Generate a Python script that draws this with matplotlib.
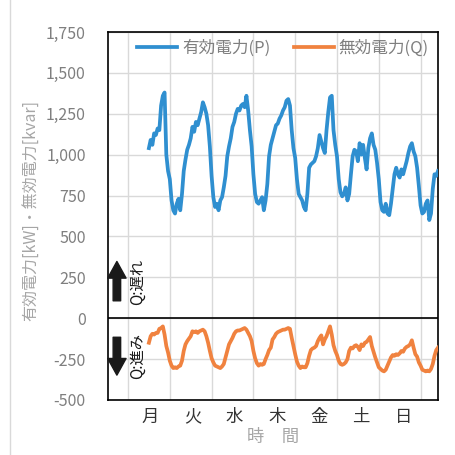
import numpy as np
import matplotlib
matplotlib.use("Agg")
import matplotlib.pyplot as plt
from matplotlib.ticker import FuncFormatter

plt.rcParams['font.family'] = ['Noto Sans CJK JP', 'DejaVu Sans']

# hourly samples, hour 0 = start of Monday
hours = np.arange(12, 179)

# active power P [kW]
p_kw = [
    1040, 1090, 1060, 1130, 1120, 1160, 1150, 1300, 1360, 1380, 1000, 900,
    850, 720, 660, 640, 700, 730, 660, 760, 900, 970, 1030, 1060,
    1100, 1170, 1140, 1200, 1180, 1220, 1260, 1320, 1290, 1250, 1180, 1050,
    870, 740, 680, 700, 660, 720, 740, 800, 870, 990, 1050, 1100,
    1170, 1200, 1250, 1280, 1270, 1300, 1310, 1290, 1360, 1270, 1150, 1050,
    880, 760, 710, 700, 720, 740, 660, 720, 820, 990, 1060, 1100,
    1140, 1180, 1190, 1220, 1240, 1270, 1290, 1330, 1340, 1300, 1150, 1040,
    980, 850, 760, 740, 720, 680, 660, 760, 920, 940, 950, 960,
    990, 1040, 1120, 1080, 1040, 1010, 1150, 1260, 1350, 1360, 1150, 1060,
    990, 850, 770, 745, 760, 800, 720, 760, 880, 990, 1030, 1020,
    960, 1070, 1000, 1060, 980, 910, 1040, 1100, 1130, 1060, 1030, 950,
    850, 710, 660, 650, 700, 640, 630, 700, 790, 880, 920, 880,
    860, 910, 880, 920, 960, 1010, 1050, 1070, 1020, 990, 920, 810,
    690, 640, 650, 700, 720, 600, 640, 790, 880, 870, 900,
]

# reactive power Q [kvar]
q_kvar = [
    -150, -110, -95, -100, -90, -90, -65, -60, -50, -100, -170, -210,
    -260, -290, -305, -300, -305, -295, -290, -260, -200, -160, -140, -125,
    -110, -80, -85, -80, -90, -80, -75, -70, -80, -110, -150, -200,
    -245, -270, -290, -295, -300, -305, -295, -280, -240, -200, -160, -140,
    -120, -95, -80, -75, -75, -70, -65, -60, -70, -90, -110, -140,
    -200, -245, -275, -290, -280, -285, -280, -250, -225, -195, -180, -130,
    -115, -95, -85, -80, -75, -70, -70, -65, -60, -65, -120, -170,
    -220, -265, -290, -305, -295, -300, -300, -275, -230, -195, -185, -180,
    -170, -140, -120, -105, -160, -130, -110, -80, -50, -100, -165, -200,
    -225, -260, -280, -285, -280, -270, -250, -200, -180, -185, -170, -165,
    -175, -195, -160, -170, -150, -145, -130, -115, -170, -205, -240, -270,
    -300, -310, -320, -325, -315, -290, -265, -240, -225, -230, -220, -225,
    -215, -200, -205, -185, -175, -170, -160, -135, -180, -220, -235, -270,
    -290, -315, -320, -325, -320, -325, -310, -280, -230, -195, -180,
]

days = ['月', '火', '水', '木', '金', '土', '日']
y_ticks = np.arange(-500, 1751, 250)

fig = plt.figure(figsize=(4.56, 4.55), dpi=100)
ax = fig.add_axes([0.2368, 0.1209, 0.7237, 0.8088])

ax.plot(hours, p_kw, color='#2f8fd0', lw=2.7, label='有効電力(P)', zorder=3)
ax.plot(hours, q_kvar, color='#f0823f', lw=2.7, label='無効電力(Q)', zorder=3)

ax.set_xlim(-11.5, 178)
ax.set_ylim(-500, 1750)

# day boundaries as grid, day names centred in between
ax.set_xticks(np.arange(0, 169, 24), minor=True)
ax.set_xticks(np.arange(7) * 24.2 + 12.8)
ax.set_xticklabels(days, fontsize=12.5, color='#333333')
ax.set_yticks(y_ticks)
ax.yaxis.set_major_formatter(FuncFormatter(lambda v, _: f'{int(v):,}'))
ax.tick_params(axis='y', length=0, pad=16, labelsize=11.5, labelcolor='#7f7f7f')
ax.tick_params(axis='x', which='both', length=0, pad=6)
ax.grid(True, axis='y', color='#d9d9d9', lw=1)
ax.grid(True, axis='x', which='minor', color='#d9d9d9', lw=1)
ax.set_axisbelow(True)
ax.axhline(0, color='black', lw=1.2, zorder=2)
for s in ax.spines.values():
    s.set_color('black')
    s.set_linewidth(1.2)

ax.set_ylabel('有効電力[kW]・無効電力[kvar]', fontsize=11.5, color='#a6a6a6', labelpad=0)
ax.yaxis.set_label_coords(-0.205, 0.515)
ax.set_xlabel('時　間', fontsize=12.5, color='#a6a6a6', labelpad=1)

# lag / lead markers
arrow = dict(arrowstyle='simple,head_width=1.1,head_length=1.0,tail_width=0.45',
             color='#1a1a1a', mutation_scale=12)
ax.annotate('', xy=(0.027, 0.384), xytext=(0.027, 0.262),
            xycoords='axes fraction', arrowprops=arrow)
ax.annotate('', xy=(0.027, 0.060), xytext=(0.027, 0.178),
            xycoords='axes fraction', arrowprops=arrow)
ax.text(0.09, 0.321, 'Q:遅れ', rotation=90, transform=ax.transAxes,
        ha='center', va='center', fontsize=11, color='#1a1a1a')
ax.text(0.09, 0.120, 'Q:進み', rotation=90, transform=ax.transAxes,
        ha='center', va='center', fontsize=11, color='#1a1a1a')

leg = ax.legend(loc='upper center', ncol=2, frameon=False, fontsize=12,
                handlelength=2.4, columnspacing=1.4, handletextpad=0.3,
                bbox_to_anchor=(0.53, 1.02))
for t in leg.get_texts():
    t.set_color('#7f7f7f')

# chart area edge
fig.add_artist(plt.Line2D([0.022, 0.022], [0, 1], color='#d9d9d9', lw=1))

fig.savefig('out.png', dpi=100)
